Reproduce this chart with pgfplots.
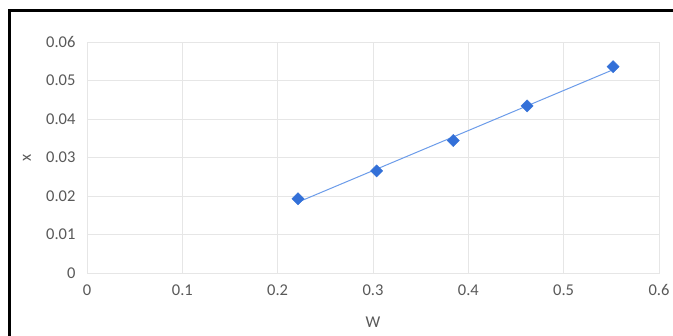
\documentclass[border=0pt]{standalone}
\usepackage{pgfplots}
\pgfplotsset{compat=1.18}
\usepackage{fontspec}
\setmainfont{Carlito}
\definecolor{lblgray}{HTML}{595959}
\definecolor{gridgray}{HTML}{E6E6E6}
\definecolor{mkblue}{HTML}{3370D8}
\definecolor{lnblue}{HTML}{6C9CEA}
\begin{document}
\begin{tikzpicture}
\useasboundingbox (0,0) rectangle (673bp,336bp);
\clip (0,0) rectangle (673bp,336bp);
\fill[white] (0,0) rectangle (673bp,336bp);
\begin{axis}[
  at={(87bp,63bp)}, anchor=origin,
  scale only axis, width=572bp, height=231bp,
  xmin=0, xmax=0.6, ymin=0, ymax=0.06,
  xtick={0,0.1,0.2,0.3,0.4,0.5,0.6},
  ytick={0,0.01,0.02,0.03,0.04,0.05,0.06},
  scaled x ticks=false, scaled y ticks=false,
  xticklabels={0,0.1,0.2,0.3,0.4,0.5,0.6},
  yticklabels={0,0.01,0.02,0.03,0.04,0.05,0.06},
  grid=major,
  major grid style={gridgray, line width=0.8bp},
  axis line style={gridgray, line width=0.8bp},
  major tick length=0pt,
  tick style={draw=none},
  font=\fontsize{16.5bp}{19bp}\selectfont,
  ticklabel style={text=lblgray, font=\fontsize{16.5bp}{19bp}\selectfont},
  yticklabel style={xshift=-8bp},
  xticklabel style={yshift=-8bp},
  xlabel={W}, ylabel={x},
  label style={text=lblgray, font=\fontsize{16.5bp}{19bp}\selectfont},
  xlabel style={at={(axis description cs:0.5,-0.2121)}, anchor=center},
  ylabel style={at={(axis description cs:-0.1049,0.5)}, anchor=center},
  clip=false,
]
\addplot[lnblue, line width=1bp] coordinates {(0.2213,0.0184) (0.5518,0.0528)};
\addplot[only marks, mark=square*, mark size=4.3bp, mark options={rotate=45, fill=mkblue, draw=mkblue}] coordinates {
(0.2213,0.0193)
(0.3038,0.0265)
(0.3842,0.0344)
(0.4616,0.0434)
(0.5518,0.0536)
};
\end{axis}
\draw[black, line width=2.5bp] (9.7bp,-10bp) -- (9.7bp,325.6bp) -- (690bp,325.6bp);
\end{tikzpicture}
\end{document}
